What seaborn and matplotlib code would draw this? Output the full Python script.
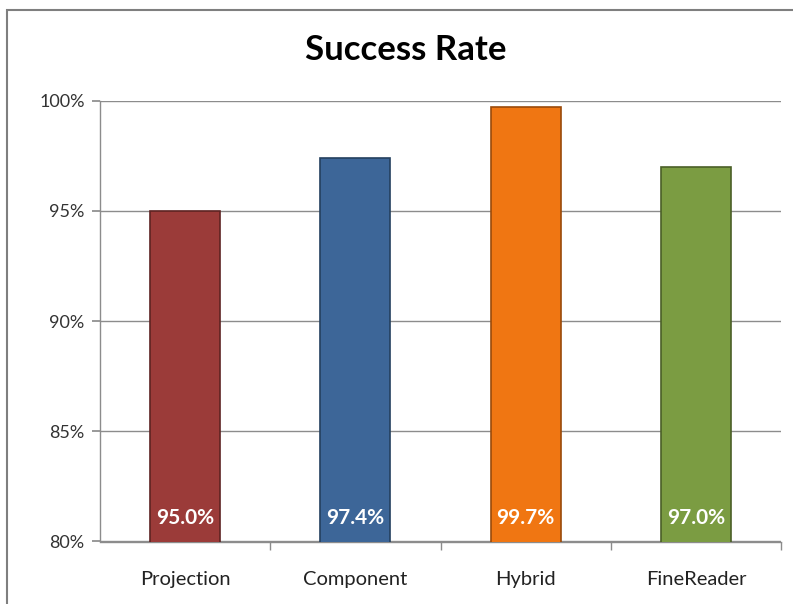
import matplotlib
matplotlib.use("Agg")
import matplotlib.pyplot as plt
import seaborn as sns
import pandas as pd
from matplotlib.patches import Rectangle
from matplotlib.ticker import FixedLocator, FuncFormatter

categories = ["Projection", "Component", "Hybrid", "FineReader"]
values = [95.0, 97.4, 99.7, 97.0]
labels = ["95.0%", "97.4%", "99.7%", "97.0%"]
colors = ["#9B3B39", "#3D6698", "#F07612", "#7B9C42"]
edge_colors = ["#5E2322", "#24405F", "#9A4A0A", "#4A5F27"]
yticks = [80, 85, 90, 95, 100]

sns.set_theme(style="white")
plt.rcParams["font.family"] = ["Lato", "DejaVu Sans"]

df = pd.DataFrame({"cat": categories, "val": values})

fig = plt.figure(figsize=(7.93, 6.04), dpi=100)
fig.patch.set_facecolor("white")
ax = fig.add_axes([100/793, 1-541.5/604, 681/793, (541.5-100.7)/604])

sns.barplot(data=df, x="cat", y="val", hue="cat", palette=colors, legend=False,
            width=0.41, ax=ax, saturation=1, zorder=3)
for p, ec in zip(ax.patches, edge_colors):
    p.set_edgecolor(ec)
    p.set_linewidth(1.2)

ax.set_ylim(80, 100)
ax.set_xlim(-0.5, 3.5)
ax.yaxis.set_major_locator(FixedLocator(yticks))
ax.yaxis.set_major_formatter(FuncFormatter(lambda v, p: f"{v:.0f}%"))
ax.grid(axis="y", color="#8C8C8C", linewidth=1, zorder=0)
ax.set_axisbelow(True)
ax.set_xlabel("")
ax.set_ylabel("")
for s in ["top", "right"]:
    ax.spines[s].set_visible(False)
for s in ["left", "bottom"]:
    ax.spines[s].set_color("#8C8C8C")
    ax.spines[s].set_linewidth(1)

ax.tick_params(axis="y", which="major", left=True, length=6, color="#8C8C8C",
               labelsize=13, labelcolor="#333333", pad=5)
ax.tick_params(axis="x", which="major", bottom=False, labelsize=14.5,
               labelcolor="#222222", pad=15)
ax.xaxis.set_minor_locator(FixedLocator([0.5, 1.5, 2.5, 3.5]))
ax.tick_params(axis="x", which="minor", bottom=True, length=6, color="#8C8C8C")

for i, lab in enumerate(labels):
    ax.text(i, 81.05, lab, ha="center", va="center", color="white",
            fontsize=15, fontweight="bold", zorder=5)

fig.text(406/793, 1-50/604, "Success Rate", ha="center", va="center",
         fontsize=25, fontweight="bold", color="black")

fig.patches.append(Rectangle((7/793, -0.1), 1.2, 1-10/604+0.1,
                             transform=fig.transFigure, fill=False,
                             edgecolor="#7F7F7F", linewidth=1.5))

fig.savefig("out.png", dpi=100, facecolor="white")
